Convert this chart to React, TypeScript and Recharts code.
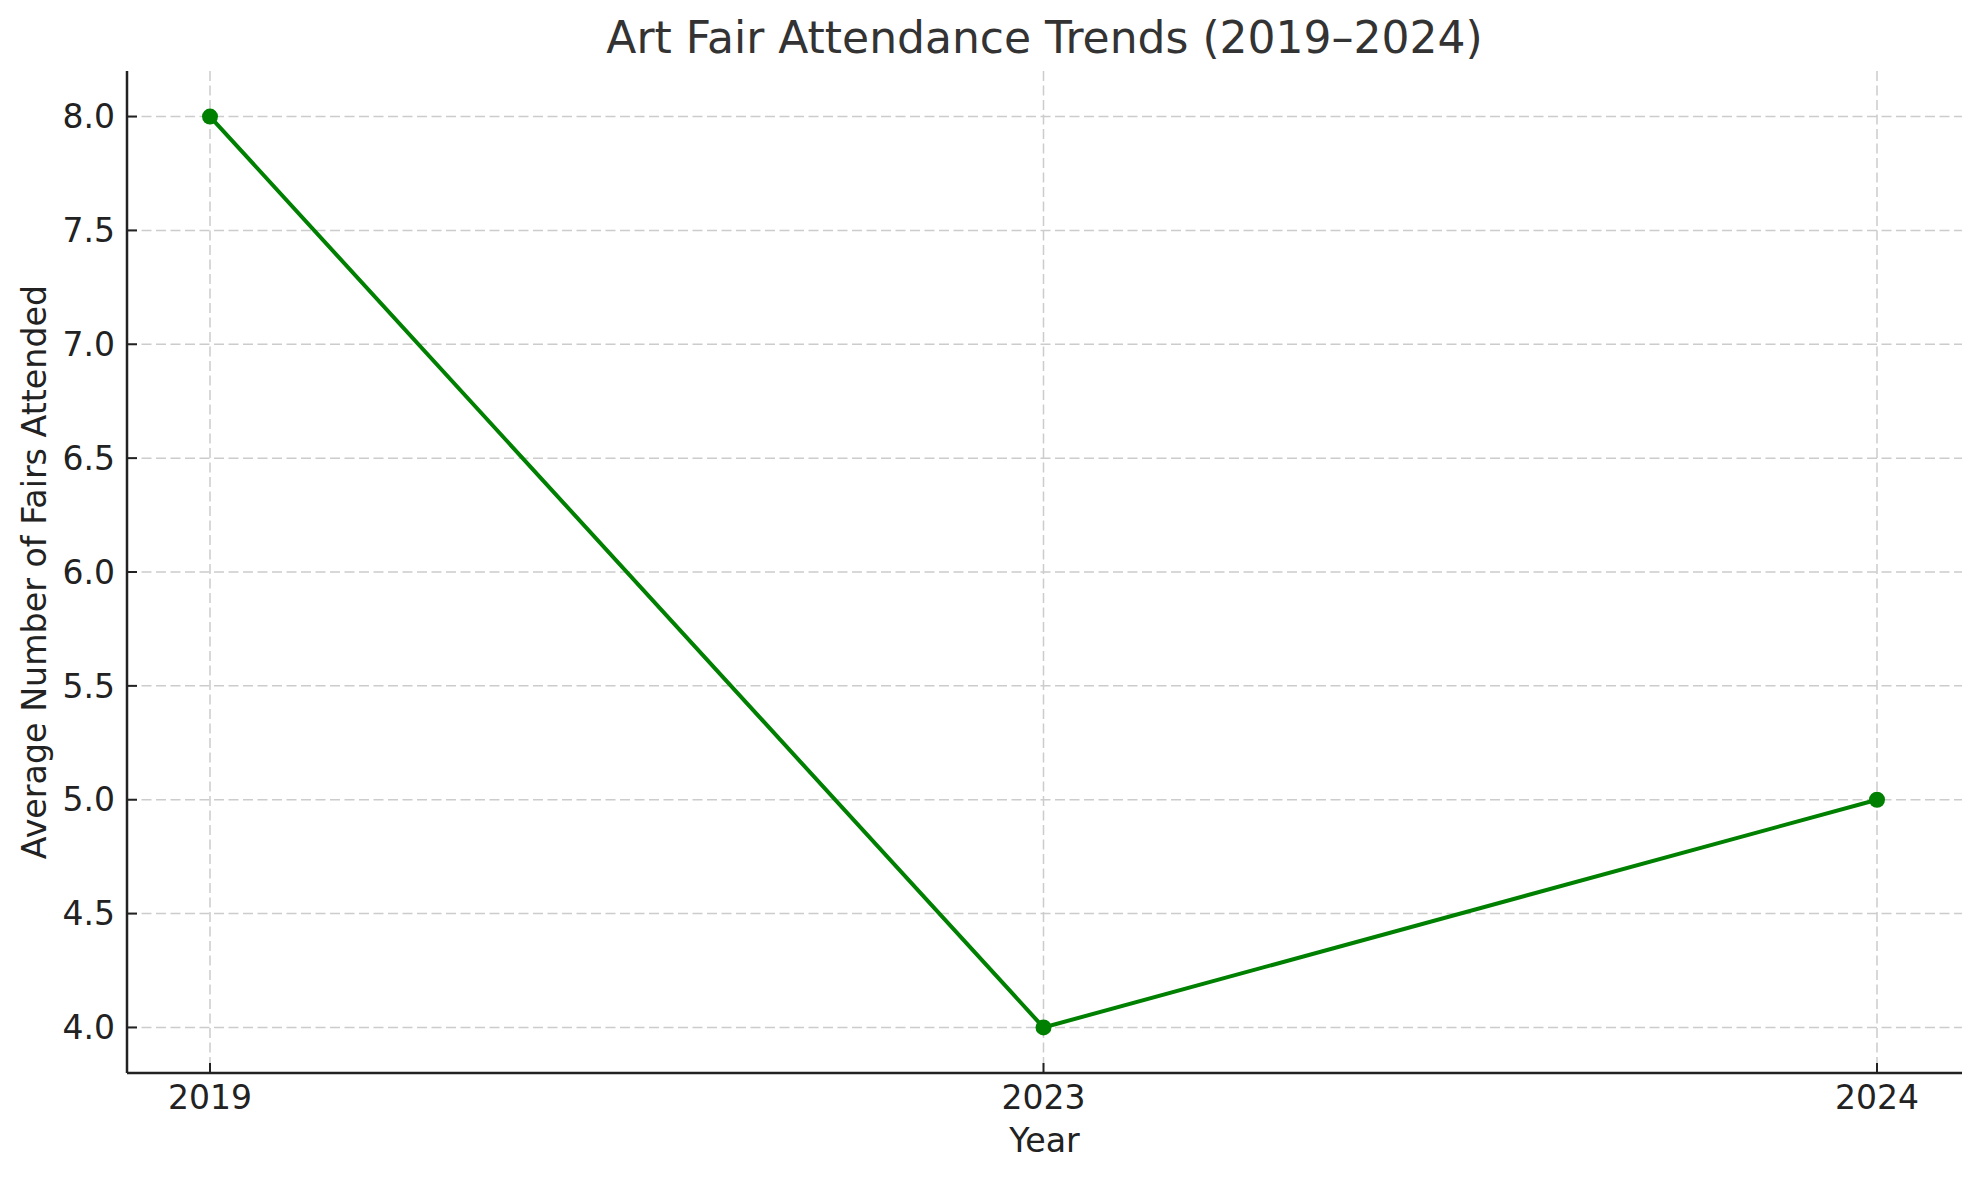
import { CartesianGrid, Line, LineChart, XAxis, YAxis } from "recharts";

const years = ["2019", "2023", "2024"];
const avgFairs = [8.0, 4.0, 5.0];
const yTicks = [4.0, 4.5, 5.0, 5.5, 6.0, 6.5, 7.0, 7.5, 8.0];

const W = 1979;
const H = 1180;
const FONT = "'DejaVu Sans', sans-serif";
const LINE_GREEN = "#008000";
const INK = "#222222";

const chartData = years.map((year, i) => ({ year, value: avgFairs[i] }));

export default function App() {
  return (
    <div
      style={{
        position: "absolute",
        left: 0,
        top: 0,
        width: W,
        height: H,
        background: "#fff",
        fontFamily: FONT,
      }}
    >
      <div
        style={{
          position: "absolute",
          top: 16,
          left: 127,
          width: 1835,
          textAlign: "center",
          fontSize: 44,
          lineHeight: "44px",
          color: "#333333",
          whiteSpace: "nowrap",
        }}
      >
        Art Fair Attendance Trends (2019–2024)
      </div>
      <LineChart
        width={W}
        height={H}
        data={chartData}
        margin={{ top: 71, right: 17, bottom: 0, left: 0 }}
      >
        <CartesianGrid
          syncWithTicks
          stroke="#cccccc"
          strokeWidth={1.5}
          strokeDasharray="10 4.5"
        />
        <XAxis
          dataKey="year"
          type="category"
          height={107}
          padding={{ left: 83, right: 85 }}
          axisLine={{ stroke: INK, strokeWidth: 2.5 }}
          tickLine={{ stroke: INK, strokeWidth: 2 }}
          tickSize={-10}
          tickMargin={23}
          tick={{ fill: INK, fontSize: 33, fontFamily: FONT }}
          label={{
            value: "Year",
            position: "insideBottom",
            offset: 28,
            style: { fill: INK, fontSize: 33.3, fontFamily: FONT },
          }}
        />
        <YAxis
          type="number"
          width={127}
          domain={[3.8, 8.2]}
          ticks={yTicks}
          allowDataOverflow
          tickFormatter={(v: number) => v.toFixed(1)}
          axisLine={{ stroke: INK, strokeWidth: 2.5 }}
          tickLine={{ stroke: INK, strokeWidth: 2 }}
          tickSize={-10}
          tickMargin={22}
          tick={{ fill: INK, fontSize: 33, fontFamily: FONT }}
          label={{
            value: "Average Number of Fairs Attended",
            angle: -90,
            position: "insideLeft",
            offset: 34,
            style: {
              fill: INK,
              fontSize: 33.3,
              fontFamily: FONT,
              textAnchor: "middle",
            },
          }}
        />
        <Line
          type="linear"
          dataKey="value"
          stroke={LINE_GREEN}
          strokeWidth={4}
          dot={{ r: 8, fill: LINE_GREEN, stroke: "none" }}
          activeDot={false}
          isAnimationActive={false}
        />
      </LineChart>
    </div>
  );
}
